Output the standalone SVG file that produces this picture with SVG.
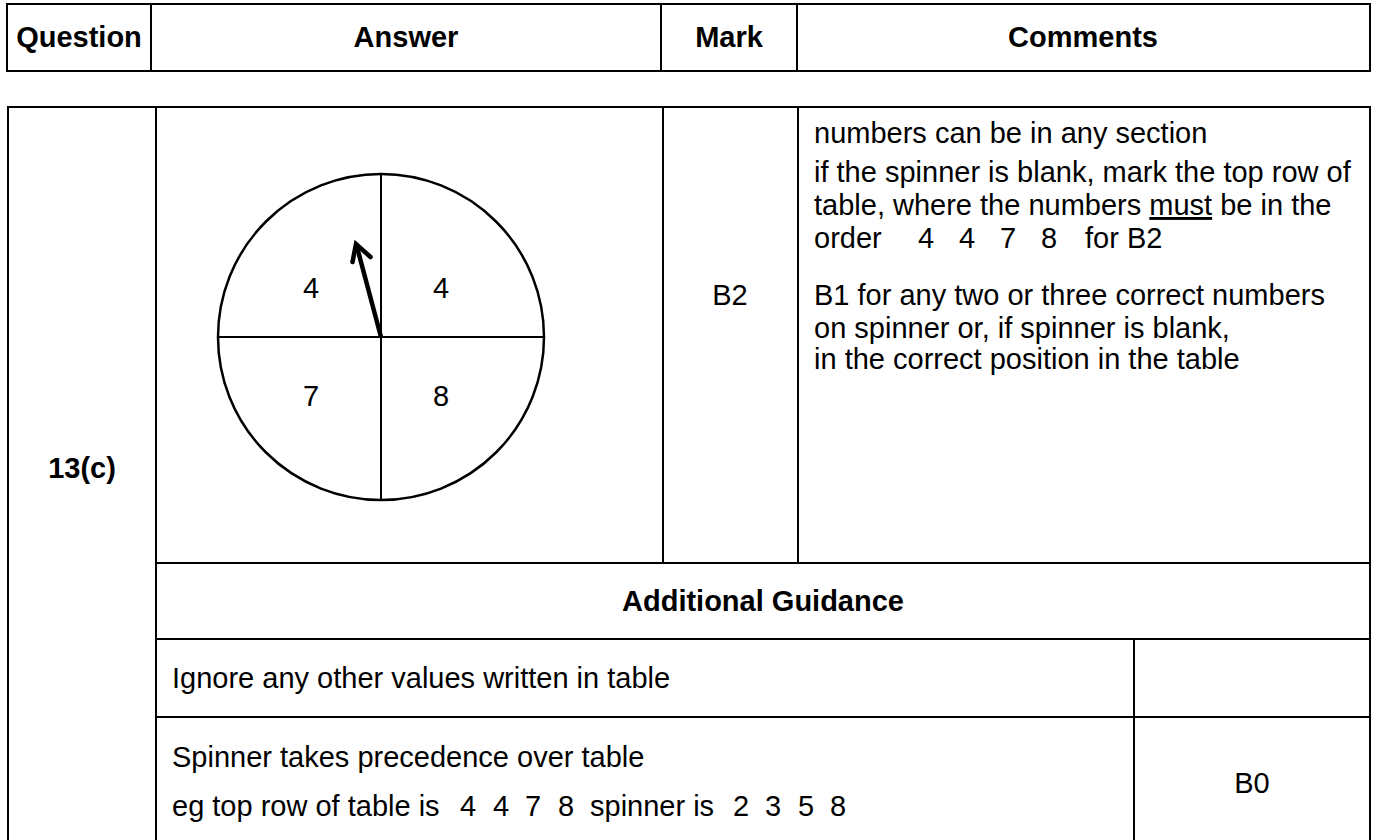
<svg xmlns="http://www.w3.org/2000/svg" width="1377" height="840" viewBox="0 0 1377 840">
<style>
  .ln { stroke: #000; stroke-width: 2; fill: none; }
  .t { font-family: "Liberation Sans", Arial, sans-serif; font-size: 29px; fill: #000; }
  .b { font-weight: bold; }
  .c { text-anchor: middle; }
</style>
<rect width="1377" height="840" fill="#fff"/>
<g id="header">
  <rect class="ln" x="7" y="4" width="1363" height="67"/>
  <line class="ln" x1="151" y1="4" x2="151" y2="71"/>
  <line class="ln" x1="661" y1="4" x2="661" y2="71"/>
  <line class="ln" x1="797" y1="4" x2="797" y2="71"/>
  <text class="t b c" x="79" y="47">Question</text>
  <text class="t b c" x="406" y="47">Answer</text>
  <text class="t b c" x="729" y="47">Mark</text>
  <text class="t b c" x="1083" y="47">Comments</text>
</g>
<g id="grid">
  <polyline class="ln" points="8,842 8,107 1370,107 1370,842"/>
  <line class="ln" x1="156" y1="107" x2="156" y2="842"/>
  <line class="ln" x1="663" y1="107" x2="663" y2="563"/>
  <line class="ln" x1="798" y1="107" x2="798" y2="563"/>
  <line class="ln" x1="156" y1="563" x2="1370" y2="563"/>
  <line class="ln" x1="156" y1="639" x2="1370" y2="639"/>
  <line class="ln" x1="156" y1="717" x2="1370" y2="717"/>
  <line class="ln" x1="1134" y1="639" x2="1134" y2="842"/>
</g>
<g id="question">
  <text class="t b c" x="82" y="478">13(c)</text>
</g>
<g id="spinner">
  <circle cx="381" cy="337" r="163" fill="none" stroke="#000" stroke-width="2.5"/>
  <line x1="381" y1="174" x2="381" y2="500" stroke="#000" stroke-width="2"/>
  <line x1="218" y1="337" x2="544" y2="337" stroke="#000" stroke-width="2"/>
  <line x1="381" y1="337" x2="357" y2="247" stroke="#000" stroke-width="4.5"/>
  <polyline points="352.5,262 356,244 370.5,257" fill="none" stroke="#000" stroke-width="4.5" stroke-linejoin="miter" stroke-linecap="round"/>
  <text class="t c" x="311" y="298">4</text>
  <text class="t c" x="441" y="298">4</text>
  <text class="t c" x="311" y="406">7</text>
  <text class="t c" x="441" y="406">8</text>
</g>
<g id="mark">
  <text class="t c" x="730" y="305">B2</text>
</g>
<g id="comments">
  <text class="t" x="814" y="143">numbers can be in any section</text>
  <text class="t" x="814" y="182">if the spinner is blank, mark the top row of</text>
  <text class="t" x="814" y="215">table, where the numbers <tspan text-decoration="underline">must</tspan> be in the</text>
  <text class="t" y="248"><tspan x="814">order</tspan><tspan x="918">4</tspan><tspan x="959">4</tspan><tspan x="1000">7</tspan><tspan x="1041">8</tspan><tspan x="1085">for B2</tspan></text>
  <text class="t" x="814" y="305">B1 for any two or three correct numbers</text>
  <text class="t" x="814" y="338">on spinner or, if spinner is blank,</text>
  <text class="t" x="814" y="369">in the correct position in the table</text>
</g>
<g id="guidance">
  <text class="t b c" x="763" y="611">Additional Guidance</text>
  <text class="t" x="172" y="688">Ignore any other values written in table</text>
  <text class="t" x="172" y="767">Spinner takes precedence over table</text>
  <text class="t" y="816"><tspan x="172">eg top row of table is</tspan><tspan x="460">4</tspan><tspan x="493">4</tspan><tspan x="525">7</tspan><tspan x="558">8</tspan><tspan x="590">spinner is</tspan><tspan x="733">2</tspan><tspan x="765">3</tspan><tspan x="798">5</tspan><tspan x="830">8</tspan></text>
  <text class="t c" x="1252" y="793">B0</text>
</g>
</svg>
